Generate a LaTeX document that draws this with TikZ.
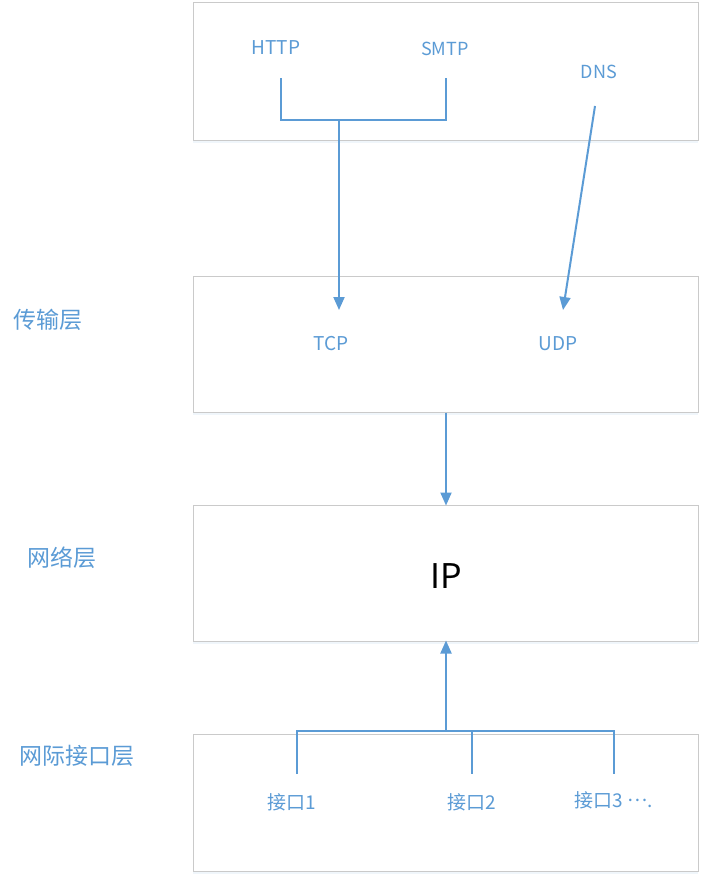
\documentclass[tikz,border=0pt]{standalone}
\usepackage{fontspec}
\setmainfont{Noto Sans CJK SC}
\usetikzlibrary{arrows.meta,shadows}
\definecolor{lineblue}{HTML}{5B9BD5}
\definecolor{boxgray}{HTML}{CACACA}
\begin{document}
\begin{tikzpicture}[x=1pt,y=-1pt,
  layerbox/.style={draw=boxgray, line width=1pt, fill=white, minimum width=505pt, inner sep=0pt,
    drop shadow={shadow xshift=0pt, shadow yshift=-3pt, opacity=0.18, fill=lineblue!50}},
  proto/.style={text=lineblue, font=\fontsize{19}{19}\selectfont, inner sep=1pt},
  layerlabel/.style={text=lineblue, font=\fontsize{23}{23}\selectfont, inner sep=1pt},
  iflabel/.style={text=lineblue, font=\fontsize{19}{19}\selectfont, inner sep=1pt},
  conn/.style={draw=lineblue, line width=2pt},
  arrowconn/.style={conn, -{Triangle[length=13pt,width=11pt]}}
]
\useasboundingbox (0,0) rectangle (707,883);

% layer boxes
\node[layerbox, minimum height=137pt] (box1) at (445.5,71.5) {};
\node[layerbox, minimum height=136pt] (box2) at (445.5,344) {};
\node[layerbox, minimum height=136pt] (box3) at (445.5,573) {};
\node[layerbox, minimum height=137pt] (box4) at (445.5,802.5) {};

% layer labels
\node[layerlabel] (lt) at (48,320) {传输层};
\node[layerlabel] (ln) at (62,558) {网络层};
\node[layerlabel] (li) at (77,756) {网际接口层};

% application protocols
\node[proto] (http) at (276,48) {HTTP};
\node[proto, font=\fontsize{18}{18}\selectfont] (smtp) at (445,49) {SMTP};
\node[proto, font=\fontsize{18}{18}\selectfont] (dns) at (599,72) {DNS};

% transport protocols
\node[proto] (tcp) at (331,344) {TCP};
\node[proto] (udp) at (558,344) {UDP};

% IP
\node[font=\fontsize{34}{34}\selectfont, text=black] (ip) at (446,576) {IP};

% interfaces
\node[iflabel] (if1) at (292,802) {接口1};
\node[iflabel] (if2) at (472,802) {接口2};
\node[iflabel] (if3) at (614,800) {接口3 \raisebox{0.3em}{…}.};

% HTTP/SMTP -> TCP
\coordinate (h1) at (281,78);
\coordinate (h2) at (281,120);
\coordinate (s1) at (446,78);
\coordinate (s2) at (446,120);
\coordinate (m) at (339,120);
\coordinate (tcpin) at (339,310);
\draw[conn] (h1) -- (h2) -- (s2) -- (s1);
\draw[arrowconn] (m) -- (tcpin);

% DNS -> UDP
\coordinate (d1) at (595,106);
\coordinate (udpin) at (563,310);
\draw[arrowconn] (d1) -- (udpin);

% transport -> network
\draw[arrowconn] (box2.south -| ip) -- ([yshift=-1pt]box3.north -| ip);

% interfaces -> network
\coordinate (b) at (446,731);
\coordinate (i1t) at (297,731);
\coordinate (i1b) at (297,774);
\coordinate (i2t) at (472,731);
\coordinate (i2b) at (472,774);
\coordinate (i3t) at (614,731);
\coordinate (i3b) at (614,774);
\draw[conn] (i1b) -- (i1t) -- (i3t) -- (i3b);
\draw[conn] (i2t) -- (i2b);
\draw[arrowconn] (b) -- ([yshift=1pt]box3.south -| ip);
\end{tikzpicture}
\end{document}
